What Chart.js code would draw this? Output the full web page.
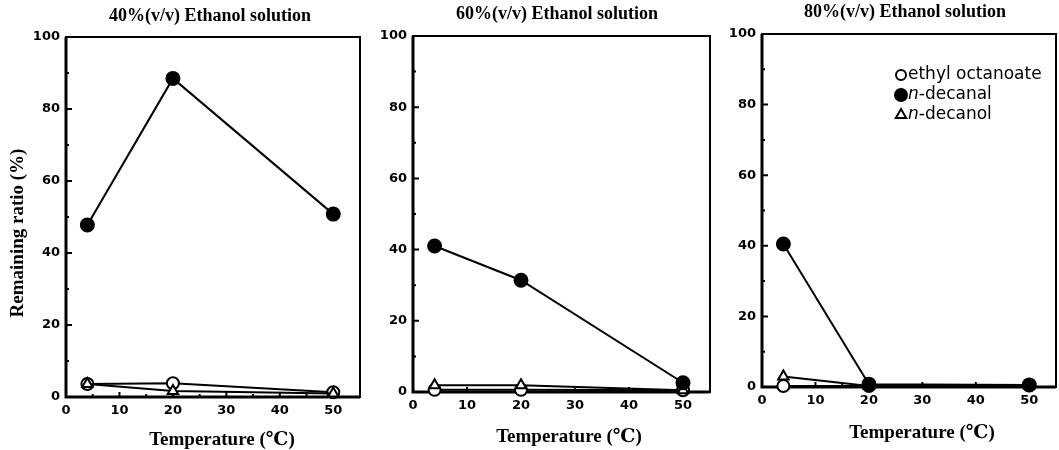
<!DOCTYPE html>
<html>
<head>
<meta charset="utf-8">
<script src="https://cdn.jsdelivr.net/npm/chart.js@4.4.0/dist/chart.umd.min.js"></script>
<style>
  body { margin: 0; background: #fff; overflow: hidden; }
  canvas { position: absolute; top: 0; }
</style>
</head>
<body>
<canvas id="c1" width="365" height="450" style="left:0"></canvas>
<canvas id="c2" width="350" height="450" style="left:365px"></canvas>
<canvas id="c3" width="344" height="450" style="left:715px"></canvas>
<script>
// temperatures (°C) and axis ticks
var temps = [4, 20, 50];
var xTicks = [0, 10, 20, 30, 40, 50];
var yTicks = [0, 20, 40, 60, 80, 100];
var panelTitles = ['40%(v/v) Ethanol solution', '60%(v/v) Ethanol solution', '80%(v/v) Ethanol solution'];
var seriesNames = ['ethyl octanoate', 'n-decanal', 'n-decanol'];

// remaining ratio (%)
var octanoate40 = [3.6, 3.8, 1.3];
var decanal40 = [47.8, 88.5, 50.8];
var decanol40 = [3.6, 1.7, 1.0];

var octanoate60 = [0.6, 0.6, 0.5];
var decanal60 = [41.0, 31.4, 2.6];
var decanol60 = [1.9, 1.9, 0.5];

var octanoate80 = [0.3, 0.3, 0.5];
var decanal80 = [40.5, 0.8, 0.6];
var decanol80 = [3.0, 0.3, 0.4];

var serif = '"Liberation Serif", "DejaVu Serif", serif';
var sans = '"DejaVu Sans", sans-serif';

function pts(values) {
    return temps.map(function(t, i) { return { x: t, y: values[i] }; });
}

function makeSets(octanoate, decanal, decanol) {
    var base = { borderColor: '#000', borderWidth: 2, pointBorderWidth: 2, pointBorderColor: '#000', clip: false, tension: 0 };
    return [
        Object.assign({ label: seriesNames[1], data: pts(decanal), pointStyle: 'circle', pointRadius: 6.5, pointBackgroundColor: '#000' }, base),
        Object.assign({ label: seriesNames[2], data: pts(decanol), pointStyle: 'triangle', pointRadius: 6, pointBackgroundColor: '#fff' }, base),
        Object.assign({ label: seriesNames[0], data: pts(octanoate), pointStyle: 'circle', pointRadius: 6, pointBackgroundColor: '#fff' }, base)
    ];
}

// frame, inward ticks, titles and legend
var decor = {
    id: 'decor',
    beforeDatasetsDraw: function(chart) {
        var ctx = chart.ctx, a = chart.chartArea;
        var xs = chart.scales.x, ys = chart.scales.y;
        ctx.save();
        ctx.strokeStyle = '#000';
        ctx.lineWidth = 2;
        ctx.strokeRect(a.left, a.top, a.right - a.left, a.bottom - a.top);
        ctx.lineWidth = 3;
        ctx.beginPath();
        ctx.moveTo(a.left, a.top);
        ctx.lineTo(a.left, a.bottom);
        ctx.lineTo(a.right, a.bottom);
        ctx.stroke();
        ctx.lineWidth = 2;
        ctx.beginPath();
        for (var v = 10; v < 100; v += 10) {
            var y = ys.getPixelForValue(v);
            ctx.moveTo(a.left, y);
            ctx.lineTo(a.left + (v % 20 === 0 ? 6 : 3), y);
        }
        for (var t = 5; t <= 50; t += 5) {
            var x = xs.getPixelForValue(t);
            ctx.moveTo(x, a.bottom);
            ctx.lineTo(x, a.bottom - (t % 10 === 0 ? 5 : 3));
        }
        ctx.stroke();
        ctx.restore();
    },
    afterDraw: function(chart, args, opts) {
        var ctx = chart.ctx;
        ctx.save();
        ctx.fillStyle = '#000';
        ctx.textAlign = 'center';
        ctx.textBaseline = 'middle';
        ctx.font = 'bold 18px ' + serif;
        ctx.fillText(opts.title, opts.titleX, opts.titleY);
        ctx.font = 'bold 19px ' + serif;
        ctx.fillText('Temperature (\u2103)', opts.xTitleX, opts.xTitleY);
        if (opts.yTitle) {
            ctx.save();
            ctx.translate(opts.yTitleX, opts.yTitleY);
            ctx.rotate(-Math.PI / 2);
            ctx.fillText('Remaining ratio (%)', 0, 0);
            ctx.restore();
        }
        if (opts.legend) {
            var L = opts.legend;
            var rows = [
                { style: 'circle', fill: '#fff', r: 5, n: '', text: 'ethyl octanoate' },
                { style: 'circle', fill: '#000', r: 6, n: 'n', text: '-decanal' },
                { style: 'triangle', fill: '#fff', r: 6, n: 'n', text: '-decanol' }
            ];
            rows.forEach(function(row, i) {
                var y = L.y + i * L.gap;
                ctx.fillStyle = row.fill;
                ctx.strokeStyle = '#000';
                ctx.lineWidth = 2;
                Chart.helpers.drawPoint(ctx, { pointStyle: row.style, radius: row.r, borderWidth: 2, rotation: 0 }, L.x, y);
                ctx.fillStyle = '#000';
                ctx.textAlign = 'left';
                var tx = L.x + 7;
                if (row.n) {
                    ctx.font = 'italic 17px ' + sans;
                    ctx.fillText(row.n, tx, y);
                    tx += ctx.measureText(row.n).width;
                }
                ctx.font = '17px ' + sans;
                ctx.fillText(row.text, tx, y);
            });
        }
        ctx.restore();
    }
};

function makeChart(id, sets, yWidth, pad, bottom, decorOpts) {
    var tickFont = { family: sans, size: 13, weight: 'bold' };
    return new Chart(document.getElementById(id).getContext('2d'), {
        type: 'line',
        data: { datasets: sets },
        plugins: [decor],
        options: {
            responsive: false,
            animation: false,
            layout: { padding: pad, autoPadding: false },
            plugins: { legend: { display: false }, tooltip: { enabled: false }, decor: decorOpts },
            scales: {
                x: {
                    type: 'linear', min: 0, max: 55,
                    afterBuildTicks: function(s) { s.ticks = xTicks.map(function(v) { return { value: v }; }); },
                    afterFit: function(s) { s.height = 450 - bottom; s.paddingLeft = 0; s.paddingRight = 0; },
                    grid: { display: false, drawTicks: false },
                    border: { display: false },
                    ticks: { padding: 6, color: '#000', font: tickFont, maxRotation: 0, autoSkip: false }
                },
                y: {
                    min: 0, max: 100,
                    afterBuildTicks: function(s) { s.ticks = yTicks.map(function(v) { return { value: v }; }); },
                    afterFit: function(s) { s.width = yWidth; },
                    grid: { display: false, drawTicks: false },
                    border: { display: false },
                    ticks: { padding: 6, color: '#000', font: tickFont }
                }
            }
        }
    });
}

makeChart('c1', makeSets(octanoate40, decanal40, decanol40), 66, { left: 0, right: 5, top: 37, bottom: 0 }, 397,
    { title: panelTitles[0], titleX: 210, titleY: 16, xTitleX: 222, xTitleY: 440, yTitle: true, yTitleX: 18, yTitleY: 233 });
makeChart('c2', makeSets(octanoate60, decanal60, decanol60), 48, { left: 0, right: 5, top: 36, bottom: 0 }, 392,
    { title: panelTitles[1], titleX: 192, titleY: 14, xTitleX: 204, xTitleY: 437 });
makeChart('c3', makeSets(octanoate80, decanal80, decanol80), 47, { left: 0, right: 3, top: 34, bottom: 0 }, 387,
    { title: panelTitles[2], titleX: 190, titleY: 12, xTitleX: 207, xTitleY: 433,
      legend: { x: 186, y: 75, gap: 20 } });
</script>
</body>
</html>
